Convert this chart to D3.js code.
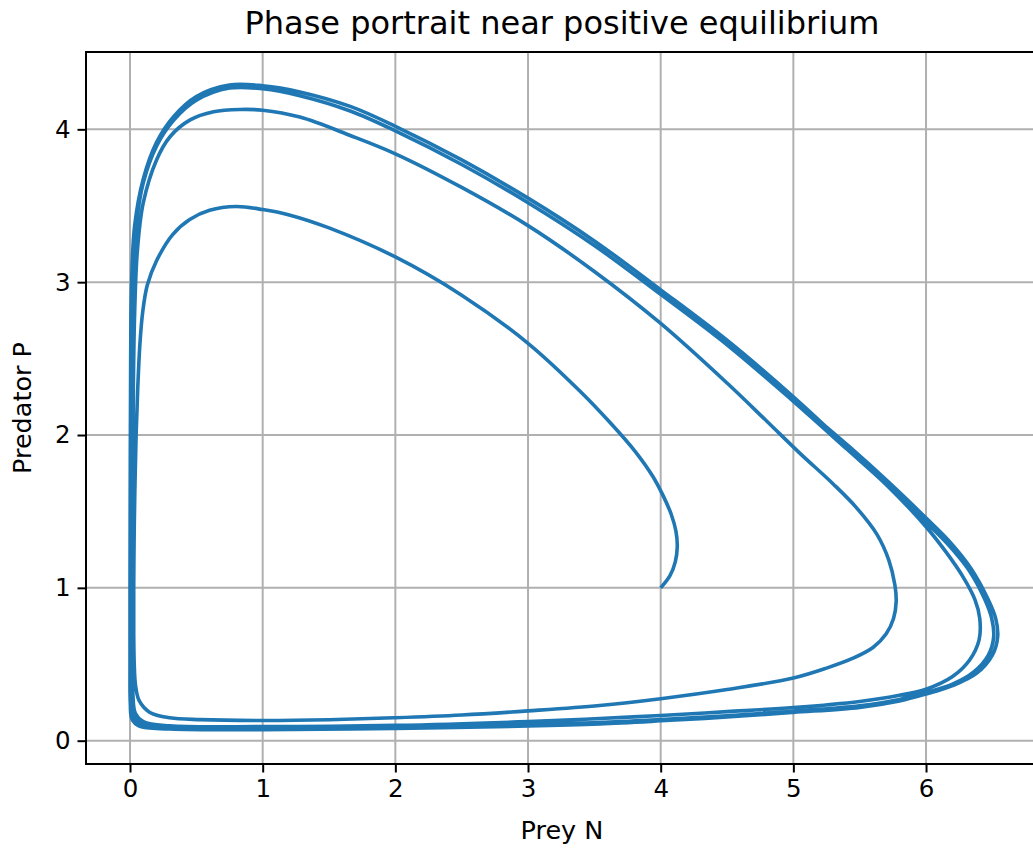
<!DOCTYPE html>
<html>
<head>
<meta charset="utf-8">
<script src="https://cdn.jsdelivr.net/npm/d3@7"></script>
<style>
  html, body { margin: 0; padding: 0; background: #fff; }
  svg { display: block; font-family: "DejaVu Sans", sans-serif; }
</style>
</head>
<body>
<svg id="chart" width="1033" height="848"></svg>
<script>
// ---- data (prey N, predator P) ----
const xTicks = [0, 1, 2, 3, 4, 5, 6];
const yTicks = [0, 1, 2, 3, 4];
const titleText = "Phase portrait near positive equilibrium";
const xLabel = "Prey N";
const yLabel = "Predator P";

// first loop: from the start point (4, 1) around the inner arc to the turn at N≈5.78
const loopA = [
  [4.00,1.00],[4.07,1.08],[4.11,1.17],[4.125,1.27],[4.115,1.37],[4.08,1.48],[4.02,1.60],
  [3.94,1.73],[3.81,1.89],[3.62,2.08],[3.40,2.28],[3.00,2.60],[2.50,2.915],[2.00,3.165],
  [1.50,3.355],[1.20,3.44],[1.00,3.475],[0.80,3.495],[0.60,3.47],[0.45,3.41],[0.32,3.31],
  [0.20,3.14],[0.13,2.98],[0.095,2.80],[0.075,2.60],[0.058,2.30],[0.046,2.00],[0.038,1.70],
  [0.032,1.40],[0.028,1.00],[0.028,0.70],[0.032,0.50],[0.042,0.36],[0.07,0.26],[0.15,0.185],
  [0.30,0.150],[0.53,0.138],[1.00,0.132],[1.50,0.137],[2.00,0.15],[2.50,0.168],[3.00,0.195],
  [3.54,0.23],[4.00,0.275],[4.50,0.335],[5.00,0.41],[5.25,0.475],[5.45,0.54],[5.60,0.61],
  [5.70,0.70],[5.755,0.80],[5.775,0.91],[5.765,1.02],[5.72,1.18],[5.63,1.35],[5.47,1.53],
  [5.30,1.68],[5.05,1.88]
];
// second loop: middle arc (peak ≈4.13) to the turn at N≈6.42
const loopB = [
  [4.80,2.09],[4.50,2.34],[4.00,2.73],[3.50,3.07],[3.00,3.37],[2.50,3.62],[2.00,3.84],
  [1.66,3.96],[1.28,4.08],[1.00,4.125],[0.83,4.13],[0.63,4.115],[0.45,4.06],[0.30,3.95],
  [0.20,3.80],[0.10,3.52],[0.055,3.20],[0.035,2.80],[0.025,2.30],[0.02,1.60],[0.017,0.90],
  [0.018,0.50],[0.022,0.30],[0.04,0.18],[0.10,0.125],[0.30,0.097],[1.00,0.092],[2.00,0.10],
  [3.00,0.125],[3.54,0.145],[4.00,0.165],[4.50,0.19],[5.00,0.217],[5.50,0.257],[5.80,0.297],
  [6.00,0.337],[6.20,0.42],[6.33,0.53],[6.40,0.66],[6.405,0.80],[6.37,0.92],[6.28,1.07],
  [6.15,1.235],[6.00,1.40]
];
// limit cycle, inner pass
const loopC = [
  [5.70,1.675],[5.40,1.91],[5.00,2.22],[4.50,2.59],[4.00,2.92],[3.50,3.24],[3.00,3.52],
  [2.50,3.77],[2.00,3.99],[1.66,4.12],[1.28,4.22],[1.00,4.265],[0.75,4.27],[0.50,4.19],
  [0.33,4.06],[0.20,3.89],[0.10,3.65],[0.045,3.36],[0.022,3.00],[0.014,2.50],[0.01,1.80],
  [0.008,1.00],[0.008,0.50],[0.011,0.28],[0.025,0.165],[0.08,0.11],[0.30,0.088],[1.00,0.082],
  [2.00,0.09],[3.00,0.104],[3.54,0.118],[4.00,0.138],[4.50,0.163],[5.00,0.193],[5.50,0.228],
  [5.80,0.27],[6.00,0.315],[6.20,0.37],[6.36,0.45],[6.47,0.56],[6.51,0.68],[6.495,0.80],
  [6.44,0.93],[6.32,1.12],[6.16,1.29],[6.00,1.43]
];
// limit cycle, outer pass
const loopD = [
  [5.70,1.69],[5.40,1.93],[5.00,2.25],[4.50,2.62],[4.00,2.95],[3.50,3.27],[3.00,3.55],
  [2.50,3.80],[2.00,4.02],[1.66,4.15],[1.28,4.245],[1.00,4.285],[0.75,4.29],[0.50,4.215],
  [0.33,4.085],[0.20,3.915],[0.10,3.675],[0.035,3.37],[0.012,3.00],[0.005,2.50],[0.002,1.80],
  [0.0,1.00],[0.0,0.50],[0.002,0.25],[0.015,0.14],[0.07,0.095],[0.30,0.077],[1.00,0.072],
  [2.00,0.08],[3.00,0.096],[3.54,0.11],[4.00,0.13],[4.50,0.155],[5.00,0.185],[5.50,0.218],
  [5.80,0.26],[6.00,0.305],[6.20,0.36],[6.38,0.44],[6.50,0.56],[6.54,0.68],[6.525,0.80],
  [6.465,0.93],[6.34,1.125],[6.18,1.30],[6.02,1.44],[5.72,1.69],[5.42,1.925],[5.00,2.235],
  [4.50,2.605],[4.00,2.935]
];

// ---- layout ----
const svg = d3.select("#chart");
const plot = { left: 86, top: 52, right: 1038, bottom: 764 };
const x = d3.scaleLinear().domain([-0.3317, 6.844]).range([plot.left, plot.right]);
const y = d3.scaleLinear().domain([-0.1525, 4.506]).range([plot.bottom, plot.top]);

const gridColor = "#b0b0b0";
const tickFont = 24.5;
const labelFont = 25.5;

// grid
const grid = svg.append("g");
grid.selectAll("line.vx").data(xTicks).enter().append("line")
  .attr("x1", d => x(d)).attr("x2", d => x(d))
  .attr("y1", plot.top).attr("y2", plot.bottom)
  .attr("stroke", gridColor).attr("stroke-width", 2);
grid.selectAll("line.hy").data(yTicks).enter().append("line")
  .attr("x1", plot.left).attr("x2", plot.right)
  .attr("y1", d => y(d)).attr("y2", d => y(d))
  .attr("stroke", gridColor).attr("stroke-width", 2);

// trajectory
const traj = loopA.concat(loopB, loopC, loopD);
const line = d3.line().x(d => x(d[0])).y(d => y(d[1])).curve(d3.curveCatmullRom.alpha(0.5));
svg.append("defs").append("clipPath").attr("id", "clip").append("rect")
  .attr("x", plot.left).attr("y", plot.top)
  .attr("width", plot.right - plot.left).attr("height", plot.bottom - plot.top);
svg.append("path").datum(traj)
  .attr("clip-path", "url(#clip)")
  .attr("d", line)
  .attr("fill", "none").attr("stroke", "#1f77b4")
  .attr("stroke-width", 3.6).attr("stroke-linejoin", "round").attr("stroke-linecap", "butt");

// axes
const xAxis = d3.axisBottom(x).tickValues(xTicks).tickSize(8.5).tickPadding(7).tickFormat(d3.format("d"));
const yAxis = d3.axisLeft(y).tickValues(yTicks).tickSize(8.5).tickPadding(7).tickFormat(d3.format("d"));
const gx = svg.append("g").attr("transform", `translate(0,${plot.bottom})`).call(xAxis);
const gy = svg.append("g").attr("transform", `translate(${plot.left},0)`).call(yAxis);
[gx, gy].forEach(g => {
  g.select(".domain").remove();
  g.selectAll(".tick line").attr("stroke", "#000").attr("stroke-width", 2);
  g.selectAll(".tick text").attr("fill", "#000").attr("font-size", tickFont)
    .attr("font-family", "DejaVu Sans, sans-serif");
});

// spines
svg.append("rect")
  .attr("x", plot.left).attr("y", plot.top)
  .attr("width", plot.right - plot.left).attr("height", plot.bottom - plot.top)
  .attr("fill", "none").attr("stroke", "#000").attr("stroke-width", 2);

// labels
svg.append("text").attr("x", (plot.left + plot.right) / 2).attr("y", 839)
  .attr("text-anchor", "middle").attr("font-size", labelFont).attr("fill", "#000").text(xLabel);
svg.append("text").attr("transform", `translate(31,${(plot.top + plot.bottom) / 2}) rotate(-90)`)
  .attr("text-anchor", "middle").attr("font-size", labelFont).attr("fill", "#000").text(yLabel);
svg.append("text").attr("x", (plot.left + plot.right) / 2).attr("y", 34)
  .attr("text-anchor", "middle").attr("font-size", 32).attr("fill", "#000").text(titleText);
</script>
</body>
</html>
